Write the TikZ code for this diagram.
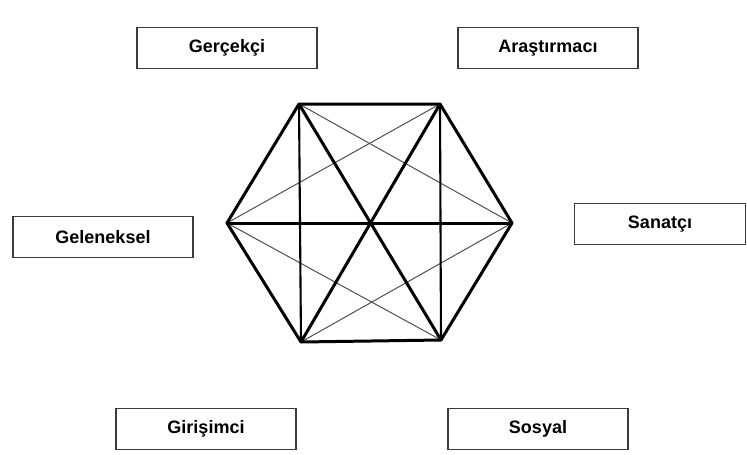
\documentclass[tikz,border=0pt]{standalone}
\usepackage{fontspec}
\setmainfont{Liberation Sans}
\usepackage{tikz}
\usetikzlibrary{positioning}
\definecolor{boxgray}{HTML}{3C3C3C}
\definecolor{thingray}{HTML}{505050}

\begin{document}
\begin{tikzpicture}[x=1pt, y=-1pt,
    typebox/.style={draw=boxgray, line width=1.8pt, minimum width=180pt,
      minimum height=41pt, inner sep=0pt,
      font=\fontsize{18}{20}\selectfont\bfseries},
    rim/.style={line width=3pt, line join=round},
    side/.style={line width=2.1pt},
    thin/.style={draw=thingray, line width=1pt}]
  \useasboundingbox (0,0) rectangle (747,455);

  % the six types
  \node[typebox] (gercekci) at (227,48) {Gerçekçi};
  \node[typebox] (arastirmaci) at (548,48) {Araştırmacı};
  \node[typebox, minimum width=171pt] (sanatci) at (660,224) {Sanatçı};
  \node[typebox] (geleneksel) at (103,237) {Geleneksel};
  \node[typebox] (girisimci) at (206,429) {Girişimci};
  \node[typebox] (sosyal) at (538,429) {Sosyal};

  % hexagon corners
  \coordinate (tl) at (299,104);
  \coordinate (tr) at (440,104);
  \coordinate (r) at (512,223);
  \coordinate (br) at (441,340);
  \coordinate (bl) at (301,342);
  \coordinate (l) at (227,223);

  % thin short diagonals
  \draw[thin] (l) -- (tr);
  \draw[thin] (l) -- (br);
  \draw[thin] (r) -- (tl);
  \draw[thin] (r) -- (bl);

  % verticals
  \draw[side] (tl) -- (bl);
  \draw[side] (tr) -- (br);

  % long diagonals
  \draw[rim] (l) -- (r);
  \draw[rim] (tl) -- (br);
  \draw[rim] (tr) -- (bl);

  % outline
  \draw[rim] (tl) -- (tr) -- (r) -- (br) -- (bl) -- (l) -- cycle;
\end{tikzpicture}
\end{document}
